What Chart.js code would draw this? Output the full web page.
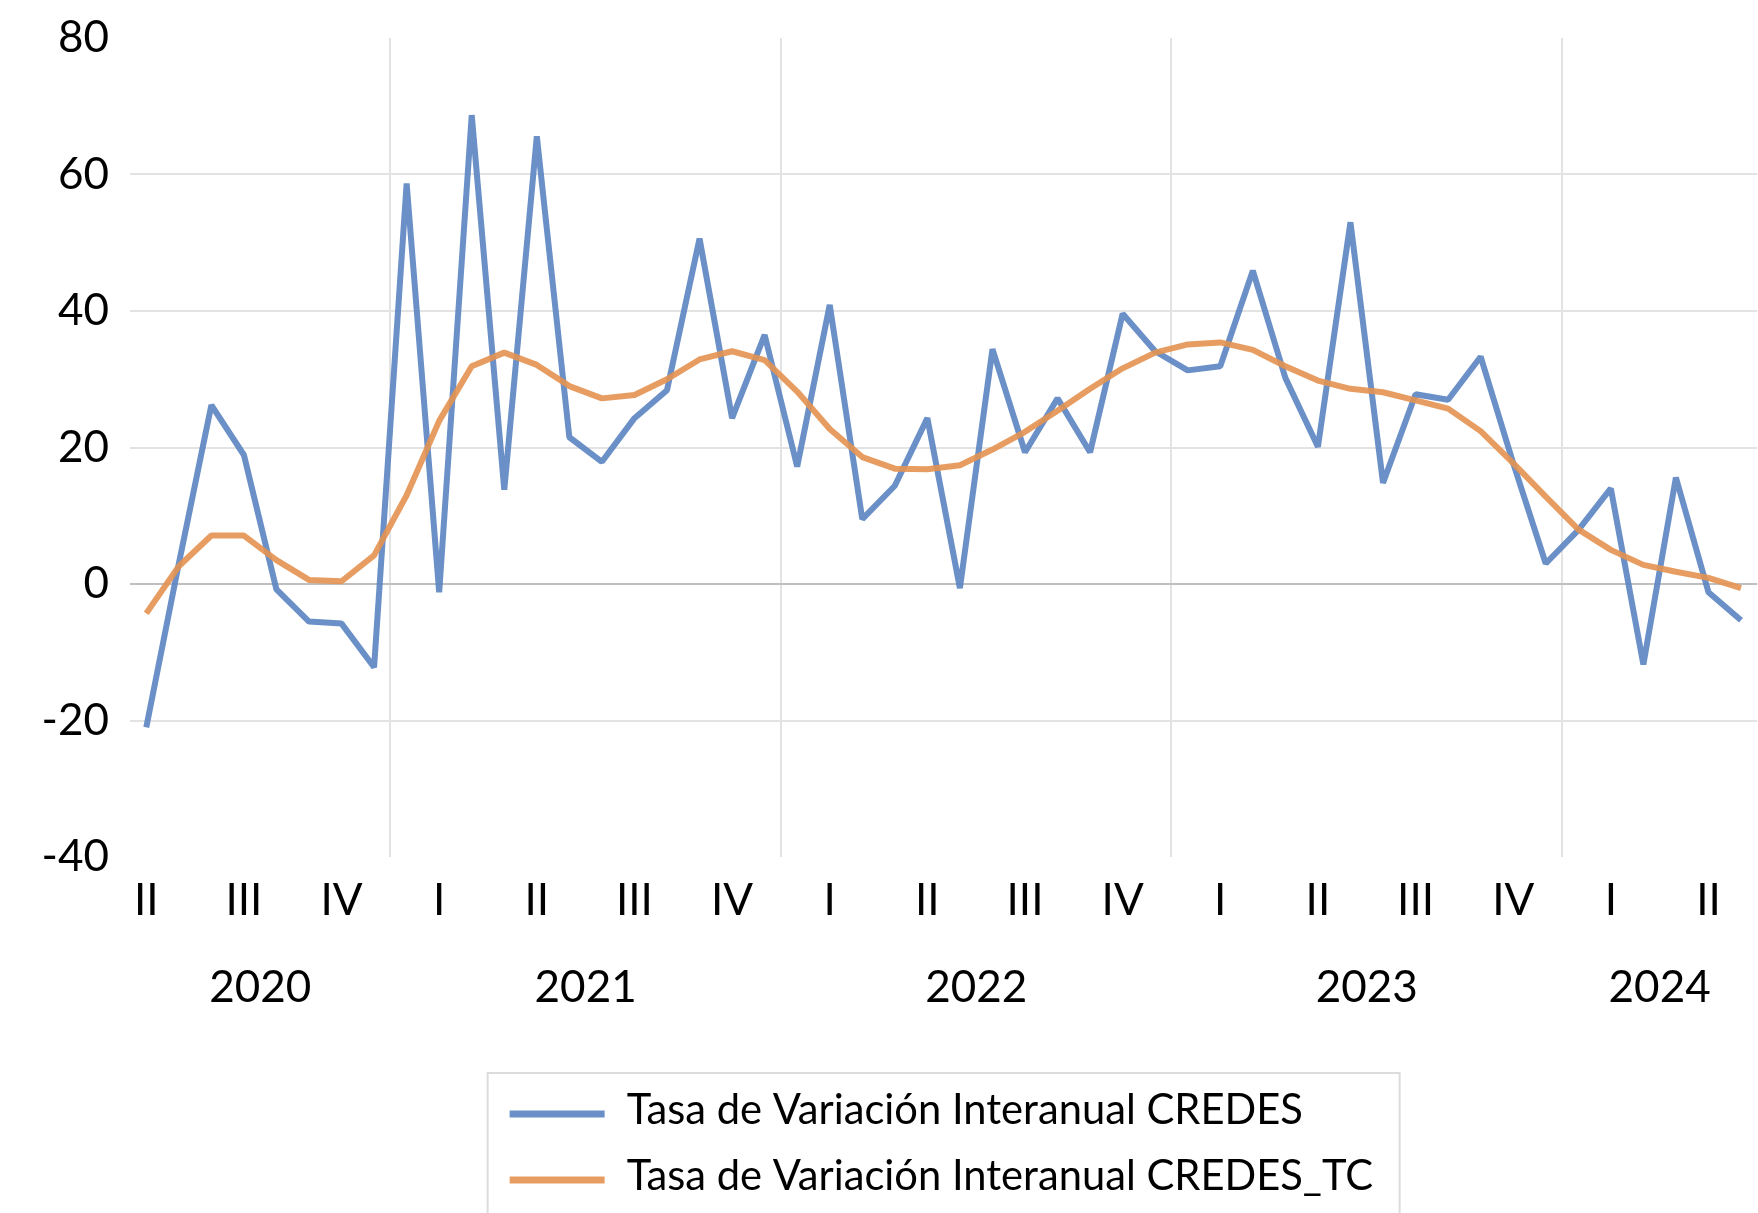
<!DOCTYPE html>
<html lang="es">
<head>
<meta charset="utf-8">
<title>Tasa de Variación Interanual CREDES</title>
<script src="https://cdn.jsdelivr.net/npm/chart.js@4.4.1/dist/chart.umd.min.js"></script>
<style>
  html, body { margin: 0; padding: 0; background: #fff; }
  #contenedor { width: 1758px; height: 1213px; }
</style>
</head>
<body>
<div id="contenedor"><canvas id="grafica" width="1758" height="1213"></canvas></div>
<script>
// --- datos ---
const meses = [
  '2020-05','2020-06','2020-07','2020-08','2020-09','2020-10','2020-11','2020-12',
  '2021-01','2021-02','2021-03','2021-04','2021-05','2021-06','2021-07','2021-08','2021-09','2021-10','2021-11','2021-12',
  '2022-01','2022-02','2022-03','2022-04','2022-05','2022-06','2022-07','2022-08','2022-09','2022-10','2022-11','2022-12',
  '2023-01','2023-02','2023-03','2023-04','2023-05','2023-06','2023-07','2023-08','2023-09','2023-10','2023-11','2023-12',
  '2024-01','2024-02','2024-03','2024-04','2024-05','2024-06'
]
const credes = [
  -21.0, 3.0, 26.2, 18.9, -0.8, -5.5, -5.8, -12.2,
  58.7, -1.2, 68.7, 13.8, 65.6, 21.5, 17.9, 24.3, 28.4, 50.6, 24.3, 36.5,
  17.2, 40.9, 9.5, 14.4, 24.3, -0.6, 34.4, 19.3, 27.2, 19.3, 39.6, 34.1,
  31.3, 31.9, 45.9, 30.2, 20.1, 53.0, 14.8, 27.8, 27.0, 33.3, 17.7, 3.0,
  7.9, 14.0, -11.8, 15.6, -1.2, -5.3
]
const credesTC = [
  -4.3, 2.6, 7.1, 7.1, 3.5, 0.6, 0.4, 4.2,
  13.0, 23.9, 31.9, 33.9, 32.1, 29.0, 27.2, 27.7, 30.0, 32.9, 34.1, 32.8,
  28.2, 22.7, 18.6, 16.9, 16.8, 17.4, 19.7, 22.3, 25.4, 28.6, 31.6, 33.9,
  35.1, 35.4, 34.3, 31.9, 29.8, 28.6, 28.1, 26.9, 25.7, 22.4, 17.7, 12.8,
  8.0, 5.0, 2.8, 1.8, 0.9, -0.6
]
const trimestres = ['I', 'II', 'III', 'IV']
const anios = ['2020', '2021', '2022', '2023', '2024']
const etiquetas = ['Tasa de Variación Interanual CREDES', 'Tasa de Variación Interanual CREDES_TC']

// --- estilo ---
const fuente = 'Lato, "Noto Sans", sans-serif'
const azul = 'rgba(90, 132, 193, 0.9)'
const naranja = 'rgba(228, 146, 80, 0.9)'
const gris = '#e3e3e3'

function tamanoPara(texto, ancho) {
  const c = document.createElement('canvas').getContext('2d')
  c.font = `100px ${fuente}`
  return Math.round(1000 * ancho / c.measureText(texto).width) / 10
}
const tamEje = tamanoPara('2020', 102)
const tamLeyenda = tamanoPara(etiquetas[0], 676)

// etiqueta del trimestre solo en el mes central
function etiquetaTrimestre(i) {
  const m = Number(meses[i].split('-')[1])
  return m % 3 === 2 ? trimestres[Math.floor((m - 1) / 3)] : ''
}
// centro de cada año y lineas divisorias
const centrosAnio = anios.map(a => {
  const idx = meses.map((m, i) => m.startsWith(a) ? i : -1).filter(i => i >= 0)
  return (idx[0] + idx[idx.length - 1]) / 2
})
const cortesAnio = meses.map((m, i) => i > 0 && m.endsWith('-01') ? i : -1).filter(i => i > 0)

const leyendaCaja = {
  id: 'leyendaCaja',
  afterDraw(chart) {
    const {ctx, chartArea} = chart
    const centro = (chartArea.left + chartArea.right) / 2
    const izq = centro - 456
    const arriba = 1073
    ctx.save()
    ctx.strokeStyle = '#dcdcdc'
    ctx.lineWidth = 2
    ctx.strokeRect(izq, arriba, 912, 200)
    ctx.font = `${tamLeyenda}px ${fuente}`
    ctx.fillStyle = '#000'
    ctx.textBaseline = 'alphabetic'
    chart.data.datasets.forEach((ds, i) => {
      const y = arriba + 41 + i * 66
      ctx.strokeStyle = ds.borderColor
      ctx.lineWidth = 7
      ctx.beginPath()
      ctx.moveTo(izq + 22, y)
      ctx.lineTo(izq + 117, y)
      ctx.stroke()
      ctx.fillText(ds.label, izq + 139, y + 10)
    })
    ctx.restore()
  }
}

const ctx = document.getElementById('grafica')
new Chart(ctx, {
  type: 'line',
  data: {
    labels: meses,
    datasets: [
      { label: etiquetas[0], data: credes, borderColor: azul, borderWidth: 6, borderJoinStyle: 'bevel',
        pointRadius: 0, tension: 0, order: 1, xAxisID: 'x', yAxisID: 'y' },
      { label: etiquetas[1], data: credesTC, borderColor: naranja, borderWidth: 6, borderJoinStyle: 'bevel',
        pointRadius: 0, tension: 0, order: 0, xAxisID: 'x', yAxisID: 'y' }
    ]
  },
  options: {
    responsive: false,
    devicePixelRatio: 1,
    animation: false,
    layout: { padding: { top: 38, right: 0, bottom: 186, left: 0 } },
    plugins: { legend: { display: false }, tooltip: { enabled: false } },
    scales: {
      x: {
        type: 'category',
        offset: true,
        weight: 0,
        grid: {
          offset: true, drawTicks: false, lineWidth: 2,
          color: c => cortesAnio.includes(c.index) ? gris : 'rgba(0,0,0,0)'
        },
        border: { display: false },
        ticks: {
          autoSkip: false, maxRotation: 0, minRotation: 0, padding: 17, color: '#000',
          font: { family: fuente, size: tamEje },
          callback: (v, i) => etiquetaTrimestre(i)
        },
        afterFit: s => { s.height = 70 }
      },
      xAnio: {
        type: 'linear',
        axis: 'x',
        position: 'bottom',
        weight: 1,
        min: -0.5,
        max: meses.length - 0.5,
        grid: { display: false },
        border: { display: false },
        afterBuildTicks: s => { s.ticks = centrosAnio.map(v => ({ value: v })) },
        ticks: {
          autoSkip: false, maxRotation: 0, padding: 26, color: '#000',
          font: { family: fuente, size: tamEje },
          callback: (v, i) => anios[i]
        },
        afterFit: s => { s.height = 100 }
      },
      y: {
        min: -40,
        max: 80,
        grid: {
          drawTicks: false, lineWidth: 2,
          color: c => c.tick.value === 0 ? '#bfbfbf' : (c.tick.value === 80 || c.tick.value === -40 ? 'rgba(0,0,0,0)' : gris)
        },
        border: { display: false },
        ticks: { stepSize: 20, padding: 21, color: '#000', font: { family: fuente, size: tamEje } },
        afterFit: s => { s.width = 130; s.paddingTop = 0; s.paddingBottom = 0 }
      }
    }
  },
  plugins: [leyendaCaja]
})
</script>
</body>
</html>
